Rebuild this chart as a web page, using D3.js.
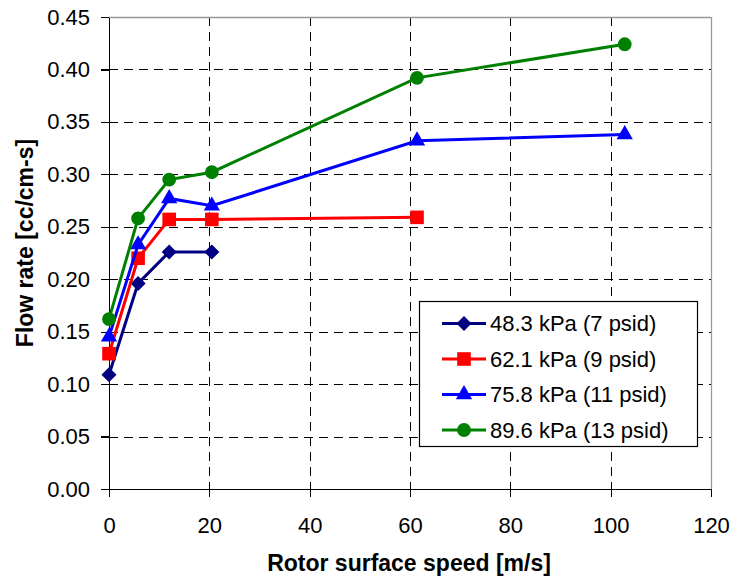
<!DOCTYPE html>
<html lang="en">
<head>
<meta charset="UTF-8">
<title>Flow rate vs rotor surface speed</title>
<script src="https://cdn.jsdelivr.net/npm/d3@7"></script>
<style>
  body{ margin:0; background:#fff; }
  .axis text{ font-family:"Liberation Sans", Arial, sans-serif; font-size:22px; fill:#000; }
  .axis path, .axis line{ stroke:#000; stroke-width:1.3; shape-rendering:crispEdges; }
  .grid line{ stroke:#000; stroke-width:1; stroke-dasharray:9,6; shape-rendering:crispEdges; }
  .title{ font-family:"Liberation Sans", Arial, sans-serif; font-size:23px; font-weight:bold; }
  .legend text{ font-family:"Liberation Sans", Arial, sans-serif; font-size:22px; }
</style>
</head>
<body>
<div id="container"></div>
<script>
// data
var speed = [0, 5.8, 12, 20.5, 61.4, 102.8];
var names = ["48.3 kPa (7 psid)", "62.1 kPa (9 psid)", "75.8 kPa (11 psid)", "89.6 kPa (13 psid)"];
var flow7 = [0.109, 0.196, 0.226, 0.226];
var flow9 = [0.129, 0.220, 0.257, 0.257, 0.259];
var flow11 = [0.145, 0.233, 0.277, 0.270, 0.332, 0.338];
var flow13 = [0.162, 0.258, 0.295, 0.302, 0.392, 0.424];
var xTicks = [0, 20, 40, 60, 80, 100, 120];
var yTicks = [0, 0.05, 0.10, 0.15, 0.20, 0.25, 0.30, 0.35, 0.40, 0.45];

var colors = ["#000080", "#ff0000", "#0000ff", "#008000"];
var symbols = [d3.symbolDiamond2, d3.symbolSquare, d3.symbolTriangle, d3.symbolCircle];
var symSize = [145, 185, 115, 150];

var width = 732, height = 578;
var pLeft = 109, pRight = 711, pTop = 17, pBottom = 489;

var svg = d3.select("#container").append("svg")
  .attr("width", width).attr("height", height);

var x = d3.scaleLinear().domain([0, 120]).range([pLeft, pRight]);
var y = d3.scaleLinear().domain([0, 0.45]).range([pBottom, pTop]);

// grid
svg.append("g").attr("class", "grid")
  .selectAll("line").data(yTicks.slice(1, -1)).enter().append("line")
  .attr("x1", pLeft).attr("x2", pRight)
  .attr("y1", d => Math.round(y(d)) + 0.5).attr("y2", d => Math.round(y(d)) + 0.5);
svg.append("g").attr("class", "grid")
  .selectAll("line").data(xTicks.slice(1, -1)).enter().append("line")
  .attr("y1", pTop).attr("y2", pBottom)
  .attr("x1", d => Math.round(x(d)) + 0.5).attr("x2", d => Math.round(x(d)) + 0.5);

// plot area border (top and right are grey)
svg.append("line").attr("x1", pLeft).attr("x2", pRight).attr("y1", pTop + 0.5).attr("y2", pTop + 0.5)
  .attr("stroke", "#999").attr("stroke-width", 1.3);
svg.append("line").attr("x1", pRight + 0.5).attr("x2", pRight + 0.5).attr("y1", pTop).attr("y2", pBottom)
  .attr("stroke", "#999").attr("stroke-width", 1.3);

// axes
var xAxis = d3.axisBottom(x).tickValues(xTicks).tickFormat(d3.format("d"))
  .tickSizeInner(8).tickSizeOuter(0).tickPadding(20);
var yAxis = d3.axisLeft(y).tickValues(yTicks).tickFormat(d3.format(".2f"))
  .tickSizeInner(8).tickSizeOuter(0).tickPadding(11);

svg.append("g").attr("class", "axis")
  .attr("transform", "translate(0," + pBottom + ")").call(xAxis);
svg.append("g").attr("class", "axis")
  .attr("transform", "translate(" + pLeft + ",0)").call(yAxis);

// titles
svg.append("text").attr("class", "title")
  .attr("x", 409).attr("y", 571)
  .attr("text-anchor", "middle").text("Rotor surface speed [m/s]");
svg.append("text").attr("class", "title")
  .attr("transform", "translate(33,243) rotate(-90)")
  .attr("text-anchor", "middle").text("Flow rate [cc/cm-s]");

// series
var series = [flow7, flow9, flow11, flow13].map(function (vals, i) {
  return { name: names[i], color: colors[i], sym: symbols[i], size: symSize[i],
    pts: vals.map((v, j) => [speed[j], v]) };
});

var line = d3.line().x(d => x(d[0])).y(d => y(d[1]));

series.forEach(function (s) {
  var g = svg.append("g");
  g.append("path").datum(s.pts).attr("d", line)
    .attr("fill", "none").attr("stroke", s.color).attr("stroke-width", 3);
  g.selectAll("path.m").data(s.pts).enter().append("path").attr("class", "m")
    .attr("d", d3.symbol().type(s.sym).size(s.size))
    .attr("transform", d => "translate(" + x(d[0]) + "," + y(d[1]) + ")")
    .attr("fill", s.color);
});

// legend
var lg = svg.append("g").attr("class", "legend");
lg.append("rect").attr("x", 419.5).attr("y", 301.5).attr("width", 278).attr("height", 145)
  .attr("fill", "#fff").attr("stroke", "#000").attr("stroke-width", 1.2);
series.forEach(function (s, i) {
  var yy = 323.5 + i * 35.5;
  lg.append("line").attr("x1", 442).attr("x2", 486).attr("y1", yy).attr("y2", yy)
    .attr("stroke", s.color).attr("stroke-width", 3);
  lg.append("path").attr("d", d3.symbol().type(s.sym).size(s.size))
    .attr("transform", "translate(464," + yy + ")").attr("fill", s.color);
  lg.append("text").attr("x", 490).attr("y", yy).attr("dy", "0.36em").text(s.name);
});
</script>
</body>
</html>
